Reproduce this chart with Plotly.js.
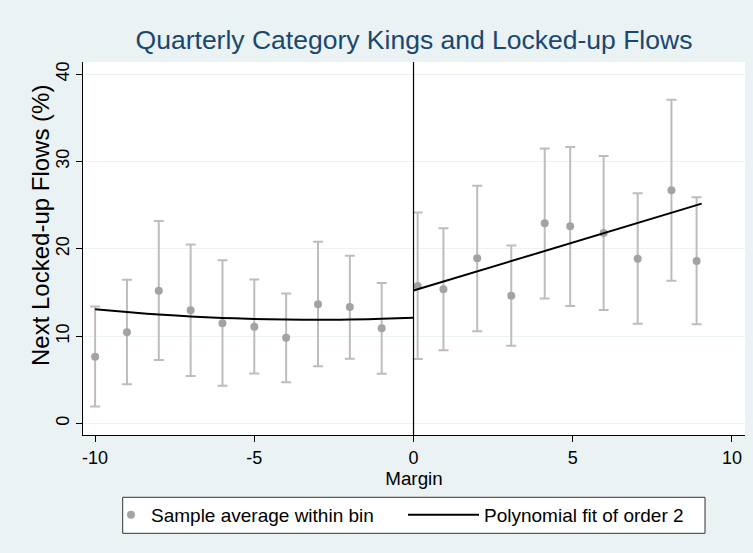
<!DOCTYPE html>
<html>
<head>
<meta charset="utf-8">
<script src="https://cdn.plot.ly/plotly-3.0.1.min.js"></script>
<style>html,body{margin:0;padding:0;background:#eaf2f3;}#chart{width:753px;height:553px;}</style>
</head>
<body>
<div id="chart"></div>
<script>
// Bin averages (left of cutoff)
var binXLeft = [-10, -9, -8, -7, -6, -5, -4, -3, -2, -1];
var binMeanLeft = [7.65, 10.45, 15.2, 12.97, 11.48, 11.09, 9.83, 13.65, 13.35, 10.9];
var binUpperLeft = [13.4, 16.47, 23.2, 20.5, 18.7, 16.5, 14.9, 20.8, 19.2, 16.1];
var binLowerLeft = [1.93, 4.49, 7.27, 5.44, 4.33, 5.71, 4.72, 6.55, 7.42, 5.7];
// Bin averages (right of cutoff)
var binXRight = [0.13, 0.94, 2.0, 3.07, 4.12, 4.92, 5.97, 7.04, 8.1, 8.89];
var binMeanRight = [15.75, 15.37, 18.92, 14.64, 22.93, 22.59, 21.82, 18.88, 26.71, 18.61];
var binUpperRight = [24.15, 22.36, 27.24, 20.37, 31.48, 31.67, 30.64, 26.37, 37.09, 25.91];
var binLowerRight = [7.39, 8.38, 10.56, 8.91, 14.3, 13.46, 13.0, 11.43, 16.36, 11.36];
// Polynomial fit
var fitXLeft = [-10, -9, -8, -7, -6, -5, -4, -3, -2, -1, 0];
var fitYLeft = [13.08, 12.76, 12.48, 12.26, 12.09, 11.97, 11.90, 11.87, 11.91, 11.99, 12.12];
var fitXRight = [0, 1, 2, 3, 4, 5, 6, 7, 8, 9.05];
var fitYRight = [15.22, 16.32, 17.42, 18.52, 19.62, 20.72, 21.82, 22.92, 24.02, 25.18];
// Axis ticks
var xTicks = [-10, -5, 0, 5, 10];
var yTicks = [0, 10, 20, 30, 40];

var binX = binXLeft.concat(binXRight);
var binMean = binMeanLeft.concat(binMeanRight);
var binUpper = binUpperLeft.concat(binUpperRight);
var binLower = binLowerLeft.concat(binLowerRight);
var errPlus = binUpper.map(function(u, i){ return u - binMean[i]; });
var errMinus = binLower.map(function(l, i){ return binMean[i] - l; });

var FONT = 'Liberation Sans, Arial, sans-serif';

var traces = [
  {
    x: binX, y: binMean, type: 'scatter', mode: 'markers',
    name: 'Sample average within bin', legend: 'legend',
    marker: {color: '#a3a3a3', size: 8},
    error_y: {type: 'data', symmetric: false, array: errPlus, arrayminus: errMinus,
      color: '#bdbdbd', thickness: 2, width: 5}
  },
  {
    x: fitXLeft, y: fitYLeft, type: 'scatter', mode: 'lines',
    name: 'Polynomial fit of order 2', legend: 'legend2',
    line: {color: '#000000', width: 2, shape: 'spline'}
  },
  {
    x: fitXRight, y: fitYRight, type: 'scatter', mode: 'lines',
    name: 'Polynomial fit of order 2', showlegend: false,
    line: {color: '#000000', width: 2}
  }
];

// pixel -> paper helpers (plot area: x 83..745, y 62..435)
function px(x){ return (x - 83) / 662; }
function py(y){ return (435 - y) / 373; }

var layout = {
  width: 753, height: 553,
  paper_bgcolor: '#eaf2f3', plot_bgcolor: '#ffffff',
  font: {family: FONT, color: '#000000', size: 18},
  margin: {l: 83, r: 8, t: 62, b: 118},
  title: {text: 'Quarterly Category Kings and Locked-up Flows',
    font: {family: FONT, size: 26.5, color: '#1a476f'},
    xref: 'paper', x: 0.5, xanchor: 'center', y: 0.928, yanchor: 'middle'},
  xaxis: {
    range: [-10.38, 10.41], tickvals: xTicks, ticktext: xTicks.map(String),
    ticks: 'outside', ticklen: 6, tickcolor: '#000', showgrid: false, zeroline: false,
    showline: true, linecolor: '#000', linewidth: 1,
    title: {text: 'Margin', font: {size: 18.8}, standoff: 2},
    tickfont: {size: 18}
  },
  yaxis: {
    range: [-1.32, 41.4], tickvals: yTicks, ticktext: yTicks.map(String),
    tickangle: -90,
    ticks: 'outside', ticklen: 6, tickcolor: '#000', showgrid: true, gridcolor: '#eaf2f3',
    gridwidth: 1, zeroline: false, showline: true, linecolor: '#000', linewidth: 1,
    tickfont: {size: 18}
  },
  annotations: [
    {text: 'Next Locked-up Flows (%)', textangle: -90, xref: 'paper', yref: 'paper',
      x: px(41), y: py(226), xanchor: 'center', yanchor: 'middle', showarrow: false,
      font: {size: 24, color: '#000'}}
  ],
  shapes: [
    {type: 'line', xref: 'x', yref: 'paper', x0: 0, x1: 0, y0: 0, y1: 1,
      line: {color: '#000000', width: 1.2}},
    {type: 'rect', xref: 'paper', yref: 'paper', x0: px(122.7), x1: px(705), y0: py(497.3), y1: py(533.3),
      fillcolor: '#ffffff', line: {color: '#333333', width: 1}, layer: 'above'}
  ],
  showlegend: true,
  legend: {
    orientation: 'h', x: px(111), xanchor: 'left', y: py(515), yanchor: 'middle',
    bgcolor: 'rgba(0,0,0,0)', borderwidth: 0, font: {size: 19}, itemwidth: 30
  },
  legend2: {
    orientation: 'h', x: px(403), xanchor: 'left', y: py(515), yanchor: 'middle',
    bgcolor: 'rgba(0,0,0,0)', borderwidth: 0, font: {size: 19}, itemwidth: 71
  }
};

Plotly.newPlot('chart', traces, layout, {displayModeBar: false, staticPlot: true});
</script>
</body>
</html>
